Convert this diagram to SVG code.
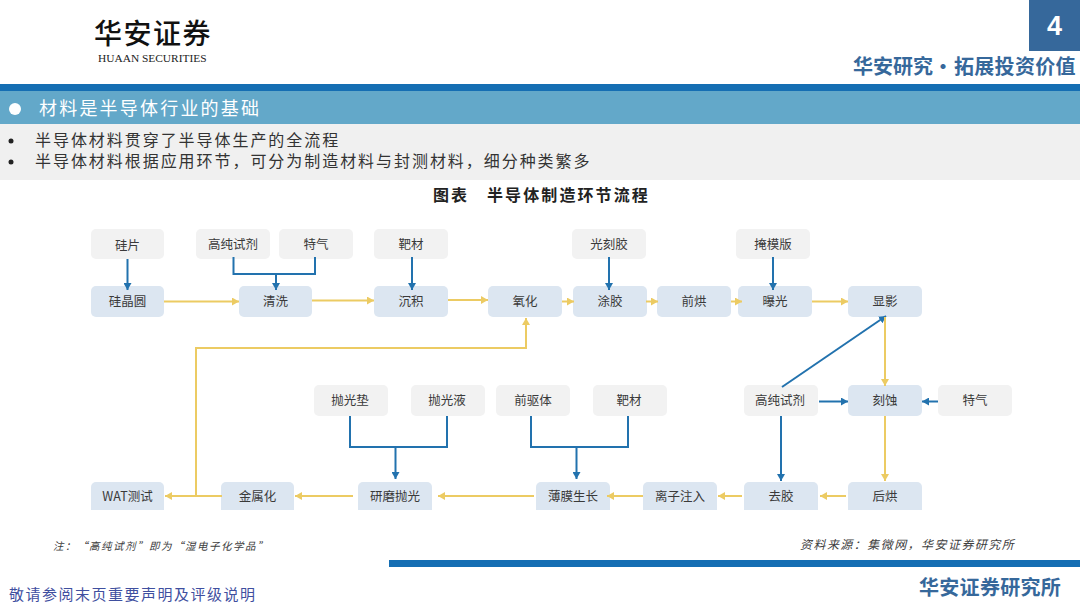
<svg xmlns="http://www.w3.org/2000/svg" width="1080" height="608" viewBox="0 0 1080 608">
<style>
text{font-family:"Noto Sans CJK SC","Liberation Sans",sans-serif}
.n rect{rx:5px;ry:5px}
.g rect{fill:#f2f2f2}
.p rect{fill:#dce6f1}
.n text{font-size:12.5px;fill:#3a3a3a;text-anchor:middle}
.b rect{clip-path:url(#cut)}
.y{fill:none;stroke:#eccb63;stroke-width:2;marker-end:url(#ay)}
.y0{fill:none;stroke:#eccb63;stroke-width:2}
.u{fill:none;stroke:#2272ae;stroke-width:2;marker-end:url(#au)}
.u0{fill:none;stroke:#2272ae;stroke-width:2}
.s{font-size:16px;letter-spacing:1.95px;fill:#333}
.hd{font-weight:700;fill:#36689b}
.it{font-style:italic;fill:#404040}
.cap{font-size:16px;font-weight:700;letter-spacing:2.1px;fill:#222}
</style>
<defs>
<clipPath id="cut"><rect x="0" y="0" width="1080" height="510"/></clipPath>
<marker id="ay" markerUnits="userSpaceOnUse" markerWidth="8" markerHeight="8" refX="7" refY="4" orient="auto"><path d="M0 0L7 4L0 8Z" fill="#eccb63"/></marker>
<marker id="au" markerUnits="userSpaceOnUse" markerWidth="8" markerHeight="8" refX="7" refY="4" orient="auto"><path d="M0 0L7 4L0 8Z" fill="#2272ae"/></marker>
</defs>
<rect width="1080" height="608" fill="#fff"/>
<g id="header">
<text x="94" y="44" font-size="28" font-weight="500" letter-spacing="1.5" fill="#111">华安证券</text>
<text x="98" y="62" font-size="11.400" style="font-family:'Liberation Serif',serif" fill="#222">HUAAN SECURITIES</text>
<rect x="1029" y="0" width="51" height="51" fill="#36689b"/>
<text x="1054.500" y="35" font-size="27" font-weight="700" fill="#fff" text-anchor="middle" style="font-family:'Liberation Sans',sans-serif">4</text>
<text x="853" y="74" font-size="20" class="hd">华安研究•<tspan x="954" letter-spacing="0.3">拓展投资价值</tspan></text>
<rect x="0" y="84" width="1080" height="7" fill="#156eb3"/>
<rect x="0" y="91" width="1080" height="33" fill="#63a8c9"/>
<circle cx="15" cy="109" r="6" fill="#fff"/>
<text x="39" y="115" font-size="18" letter-spacing="2.2" fill="#fff">材料是半导体行业的基础</text>
<rect x="0" y="124" width="1080" height="56" fill="#f0f0f0"/>
<circle cx="11" cy="141" r="2.500" fill="#222"/>
<circle cx="11" cy="162" r="2.500" fill="#222"/>
<text x="35" y="146" class="s">半导体材料贯穿了半导体生产的全流程</text>
<text x="35" y="167" class="s">半导体材料根据应用环节，可分为制造材料与封测材料，细分种类繁多</text>
<text x="433" y="201" class="cap">图表</text>
<text x="487" y="201" class="cap">半导体制造环节流程</text>
</g>
<g id="n1" class="n g"><rect x="91" y="229" width="73" height="30"/><text x="127.500" y="250">硅片</text></g>
<g id="n2" class="n g"><rect x="196" y="229" width="74" height="30"/><text x="233" y="249">高纯试剂</text></g>
<g id="n3" class="n g"><rect x="279" y="229" width="74" height="30"/><text x="316" y="249">特气</text></g>
<g id="n4" class="n g"><rect x="374" y="229" width="74" height="30"/><text x="411" y="249">靶材</text></g>
<g id="n5" class="n g"><rect x="572" y="229" width="74" height="30"/><text x="609" y="249">光刻胶</text></g>
<g id="n6" class="n g"><rect x="736" y="229" width="74" height="30"/><text x="773" y="249">掩模版</text></g>
<g id="n7" class="n p"><rect x="91" y="286" width="73" height="31"/><text x="127.500" y="306">硅晶圆</text></g>
<g id="n8" class="n p"><rect x="239" y="286" width="73" height="31"/><text x="275.500" y="306">清洗</text></g>
<g id="n9" class="n p"><rect x="374" y="286" width="74" height="31"/><text x="411" y="306">沉积</text></g>
<g id="n10" class="n p"><rect x="488" y="286" width="74" height="31"/><text x="525" y="306">氧化</text></g>
<g id="n11" class="n p"><rect x="573" y="286" width="74" height="31"/><text x="610" y="306">涂胶</text></g>
<g id="n12" class="n p"><rect x="657" y="286" width="74" height="31"/><text x="694" y="306">前烘</text></g>
<g id="n13" class="n p"><rect x="738" y="286" width="74" height="31"/><text x="775" y="306">曝光</text></g>
<g id="n14" class="n p"><rect x="848" y="286" width="74" height="31"/><text x="885" y="306">显影</text></g>
<g id="n15" class="n g"><rect x="314" y="385" width="74" height="31"/><text x="350" y="405">抛光垫</text></g>
<g id="n16" class="n g"><rect x="411" y="385" width="74" height="31"/><text x="447" y="405">抛光液</text></g>
<g id="n17" class="n g"><rect x="496" y="385" width="74" height="31"/><text x="533" y="405">前驱体</text></g>
<g id="n18" class="n g"><rect x="593" y="385" width="74" height="31"/><text x="629" y="405">靶材</text></g>
<g id="n19" class="n g"><rect x="744" y="385" width="74" height="31"/><text x="780" y="405">高纯试剂</text></g>
<g id="n20" class="n p"><rect x="848" y="385" width="74" height="31"/><text x="885" y="405">刻蚀</text></g>
<g id="n21" class="n g"><rect x="938" y="385" width="74" height="31"/><text x="975" y="405">特气</text></g>
<g id="n22" class="n p b"><rect x="91" y="482" width="73" height="36"/><text x="127.500" y="501">WAT测试</text></g>
<g id="n23" class="n p b"><rect x="221" y="482" width="73" height="36"/><text x="257.500" y="501">金属化</text></g>
<g id="n24" class="n p b"><rect x="358" y="482" width="74" height="36"/><text x="395" y="501">研磨抛光</text></g>
<g id="n25" class="n p b"><rect x="536" y="482" width="74" height="36"/><text x="573" y="501">薄膜生长</text></g>
<g id="n26" class="n p b"><rect x="643" y="482" width="74" height="36"/><text x="680" y="501">离子注入</text></g>
<g id="n27" class="n p b"><rect x="744" y="482" width="74" height="36"/><text x="781" y="501">去胶</text></g>
<g id="n28" class="n p b"><rect x="848" y="482" width="74" height="36"/><text x="885" y="501">后烘</text></g>
<g id="connectors">
<path class="u" d="M127.500 259V290"/>
<path class="y" d="M164 301.500H239"/>
<path class="u0" d="M233.500 257V274H315V257"/>
<path class="u" d="M276 274V290"/>
<path class="y" d="M312 300.500H374"/>
<path class="y" d="M448 300H488"/>
<path class="u" d="M412 257V290"/>
<path class="y" d="M562 301.500H574"/>
<path class="u" d="M609 257V290"/>
<path class="y" d="M646 301.500H658"/>
<path class="u" d="M773 257V290"/>
<path class="y" d="M731 301.500H742"/>
<path class="y" d="M812 301.500H848"/>
<path class="u" d="M782 387L886 316"/>
<path class="y" d="M885 317V386"/>
<path class="u" d="M819 401.500H848"/>
<path class="u" d="M938 401.500H922"/>
<path class="u" d="M781 416V481"/>
<path class="y" d="M885 416V481"/>
<path class="y" d="M846 496H820"/>
<path class="y" d="M742 496H718"/>
<path class="y" d="M643 496H607"/>
<path class="y" d="M534 496H438"/>
<path class="y" d="M353 496H295"/>
<path class="y" d="M222 496H165"/>
<path class="y" d="M196 496V348H526V318"/>
<path class="u0" d="M350 416V447H447V416"/>
<path class="u" d="M395.500 447V479"/>
<path class="u0" d="M531 416V447H628V416"/>
<path class="u" d="M576.500 447V479"/>
</g>
<g id="footer">
<text x="53" y="550" font-size="10.500" class="it" letter-spacing="1.5">注：“高纯试剂”即为“湿电子化学品”</text>
<text x="800" y="549" font-size="12" class="it" letter-spacing="1.450">资料来源：集微网，华安证券研究所</text>
<rect x="389" y="560" width="691" height="7" fill="#156eb3"/>
<text x="9" y="600" font-size="15" letter-spacing="1.5" fill="#3f4f9f">敬请参阅末页重要声明及评级说明</text>
<text x="919" y="595" font-size="20" class="hd" letter-spacing="0.3">华安证券研究所</text>
</g>
</svg>
